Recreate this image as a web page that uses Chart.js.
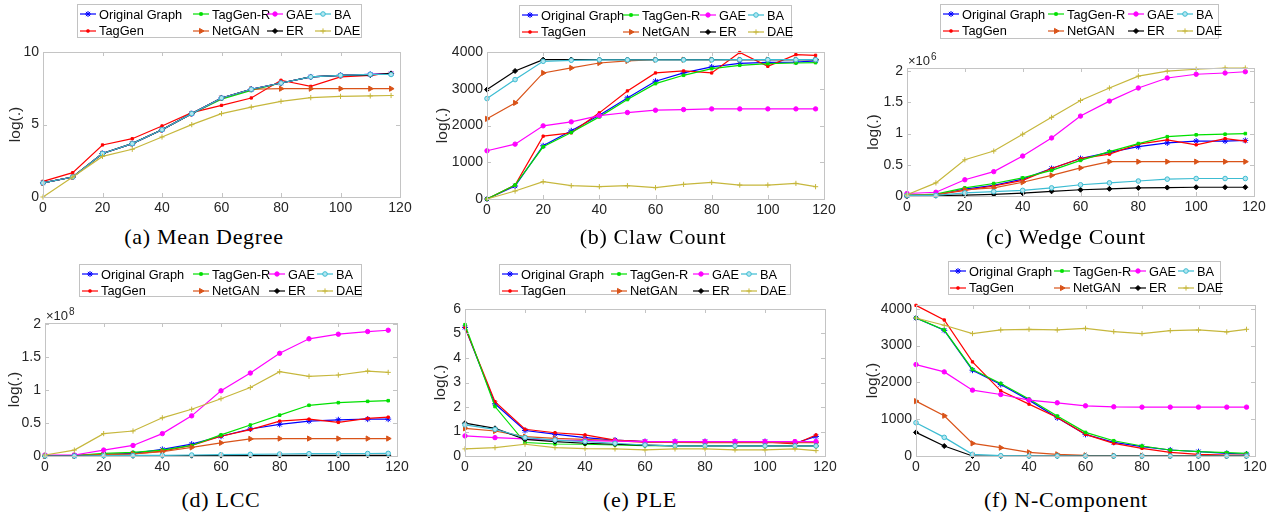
<!DOCTYPE html>
<html>
<head>
<meta charset="utf-8">
<script src="https://cdn.jsdelivr.net/npm/chart.js@4.4.1/dist/chart.umd.min.js"></script>
<style>
  body { margin: 0; width: 1279px; height: 516px; background: #fff; position: relative; overflow: hidden;
         font-family: 'Liberation Sans', Arial, sans-serif; }
  canvas.plot { position: absolute; }
  .legend { position: absolute; border: 1px solid #c2c2c2; background: #fff; box-sizing: border-box; }
  .item { position: absolute; height: 16px; display: flex; align-items: center; font-size: 12.8px; color: #000; white-space: nowrap; }
  .item canvas { margin-right: 3px; }
  .caption { position: absolute; font-family: 'Liberation Serif', 'Times New Roman', serif; font-size: 22px; line-height: 22px;
             letter-spacing: 0.7px; white-space: nowrap; transform: translateX(-50%); color: #000; }
</style>
</head>
<body>
<script>
// x positions shared by every panel
const steps = [0, 10, 20, 30, 40, 50, 60, 70, 80, 90, 100, 110, 117];
const xTicks = [0, 20, 40, 60, 80, 100, 120];

// series order: Original Graph, TagGen, TagGen-R, NetGAN, GAE, ER, BA, DAE
const seriesNames = ['Original Graph', 'TagGen', 'TagGen-R', 'NetGAN', 'GAE', 'ER', 'BA', 'DAE'];

// (a) Mean Degree
const degOriginal = [0.97, 1.38, 3.0, 3.68, 4.64, 5.75, 6.83, 7.43, 7.86, 8.28, 8.39, 8.46, 8.5];
const degTagGen   = [1.08, 1.68, 3.59, 4.02, 4.9, 5.82, 6.32, 6.83, 8.05, 7.63, 8.28, 8.39, 8.55];
const degTagGenR  = [0.97, 1.38, 3.0, 3.68, 4.64, 5.75, 6.75, 7.35, 7.86, 8.28, 8.39, 8.45, 8.45];
const degNetGAN   = [0.97, 1.38, 3.0, 3.68, 4.64, 5.75, 6.83, 7.43, 7.47, 7.47, 7.47, 7.47, 7.47];
const degGAE      = [0.97, 1.38, 3.0, 3.68, 4.64, 5.75, 6.83, 7.43, 7.86, 8.28, 8.39, 8.46, 8.5];
const degER       = [0.97, 1.38, 3.0, 3.68, 4.64, 5.75, 6.83, 7.43, 7.86, 8.28, 8.39, 8.42, 8.52];
const degBA       = [0.97, 1.38, 3.0, 3.68, 4.64, 5.75, 6.83, 7.43, 7.86, 8.28, 8.39, 8.46, 8.45];
const degDAE      = [0, 1.38, 2.8, 3.29, 4.14, 4.99, 5.75, 6.2, 6.6, 6.85, 6.94, 6.97, 7.0];
const degTicks = [0, 5, 10];

// (b) Claw Count
const clawOriginal = [0, 353, 1448, 1855, 2280, 2751, 3204, 3430, 3593, 3690, 3720, 3727, 3760];
const clawTagGen   = [0, 380, 1710, 1800, 2344, 2941, 3430, 3484, 3430, 3985, 3610, 3930, 3910];
const clawTagGenR  = [0, 380, 1420, 1810, 2235, 2706, 3140, 3366, 3548, 3638, 3683, 3700, 3710];
const clawNetGAN   = [2181, 2615, 3430, 3566, 3701, 3756, 3790, 3790, 3790, 3790, 3790, 3790, 3790];
const clawGAE      = [1312, 1493, 1991, 2100, 2271, 2353, 2416, 2434, 2452, 2452, 2452, 2452, 2452];
const clawER       = [2977, 3484, 3792, 3795, 3795, 3795, 3795, 3795, 3795, 3795, 3795, 3795, 3795];
const clawBA       = [2733, 3249, 3747, 3774, 3785, 3785, 3785, 3785, 3785, 3790, 3790, 3790, 3790];
const clawDAE      = [0, 217, 470, 362, 335, 362, 308, 398, 452, 380, 380, 425, 335];
const clawTicks = [0, 1000, 2000, 3000, 4000];

// (c) Wedge Count, in units of 1e6
const wedgeOriginal = [0.01, 0.02, 0.11, 0.17, 0.27, 0.44, 0.6, 0.7, 0.79, 0.85, 0.88, 0.88, 0.89];
const wedgeTagGen   = [0.01, 0.02, 0.09, 0.16, 0.25, 0.44, 0.6, 0.67, 0.83, 0.9, 0.82, 0.92, 0.88];
const wedgeTagGenR  = [0.01, 0.03, 0.13, 0.2, 0.29, 0.41, 0.57, 0.71, 0.84, 0.95, 0.98, 0.99, 1.0];
const wedgeNetGAN   = [0.01, 0.02, 0.1, 0.13, 0.22, 0.33, 0.45, 0.55, 0.55, 0.55, 0.55, 0.55, 0.55];
const wedgeGAE      = [0.04, 0.06, 0.26, 0.39, 0.64, 0.93, 1.28, 1.52, 1.73, 1.89, 1.95, 1.97, 1.99];
const wedgeER       = [0, 0.005, 0.015, 0.025, 0.045, 0.075, 0.1, 0.115, 0.13, 0.135, 0.14, 0.14, 0.14];
const wedgeBA       = [0.01, 0.01, 0.05, 0.07, 0.09, 0.13, 0.18, 0.21, 0.24, 0.27, 0.28, 0.28, 0.28];
const wedgeDAE      = [0.02, 0.21, 0.58, 0.72, 0.99, 1.26, 1.53, 1.73, 1.92, 2.0, 2.03, 2.05, 2.05];
const wedgeTicks = [0, 0.5, 1, 1.5, 2];

// (d) LCC, in units of 1e8
const lccOriginal = [0, 0.005, 0.025, 0.04, 0.1, 0.18, 0.3, 0.41, 0.48, 0.53, 0.55, 0.56, 0.56];
const lccTagGen   = [0, 0.005, 0.025, 0.03, 0.075, 0.16, 0.3, 0.4, 0.53, 0.56, 0.51, 0.57, 0.59];
const lccTagGenR  = [0, 0.005, 0.04, 0.055, 0.09, 0.16, 0.32, 0.47, 0.62, 0.77, 0.81, 0.83, 0.84];
const lccNetGAN   = [0, 0.005, 0.02, 0.03, 0.065, 0.13, 0.2, 0.26, 0.265, 0.265, 0.265, 0.265, 0.265];
const lccGAE      = [0.015, 0.015, 0.09, 0.16, 0.34, 0.61, 0.99, 1.26, 1.56, 1.78, 1.85, 1.89, 1.91];
const lccER       = [0, 0, 0.002, 0.003, 0.004, 0.005, 0.006, 0.007, 0.008, 0.009, 0.009, 0.01, 0.01];
const lccBA       = [0, 0, 0.005, 0.008, 0.01, 0.015, 0.02, 0.025, 0.03, 0.035, 0.035, 0.038, 0.04];
const lccDAE      = [0.015, 0.09, 0.34, 0.38, 0.58, 0.71, 0.87, 1.04, 1.28, 1.21, 1.23, 1.29, 1.27];
const lccTicks = [0, 0.5, 1, 1.5, 2];

// (e) PLE
const pleOriginal = [5.25, 2.13, 1.04, 0.89, 0.75, 0.65, 0.59, 0.59, 0.59, 0.59, 0.59, 0.52, 0.8];
const pleTagGen   = [5.25, 2.22, 1.09, 0.95, 0.86, 0.65, 0.59, 0.58, 0.58, 0.58, 0.58, 0.49, 0.86];
const pleTagGenR  = [5.36, 2.02, 0.55, 0.49, 0.48, 0.45, 0.42, 0.42, 0.42, 0.42, 0.42, 0.42, 0.42];
const pleNetGAN   = [1.13, 1.02, 0.79, 0.72, 0.68, 0.63, 0.56, 0.55, 0.55, 0.55, 0.55, 0.55, 0.55];
const pleGAE      = [0.82, 0.75, 0.7, 0.65, 0.63, 0.61, 0.59, 0.59, 0.59, 0.59, 0.59, 0.59, 0.59];
const pleER       = [1.34, 1.13, 0.68, 0.59, 0.52, 0.48, 0.44, 0.41, 0.41, 0.41, 0.41, 0.41, 0.41];
const pleBA       = [1.27, 1.09, 0.75, 0.65, 0.59, 0.52, 0.45, 0.41, 0.41, 0.41, 0.41, 0.41, 0.41];
const pleDAE      = [0.29, 0.34, 0.48, 0.34, 0.3, 0.29, 0.25, 0.29, 0.29, 0.25, 0.25, 0.29, 0.22];
const pleTicks = [0, 1, 2, 3, 4, 5, 6];

// (f) N-Component
const compOriginal = [3747, 3413, 2330, 1941, 1517, 1038, 587, 370, 253, 163, 117, 72, 54];
const compTagGen   = [4090, 3693, 2555, 1770, 1409, 1047, 587, 343, 208, 99, 45, 27, 18];
const compTagGenR  = [3750, 3420, 2350, 1970, 1545, 1084, 641, 415, 271, 163, 117, 90, 72];
const compNetGAN   = [1490, 1093, 343, 226, 99, 45, 18, 9, 9, 9, 9, 9, 9];
const compGAE      = [2483, 2284, 1788, 1670, 1517, 1445, 1363, 1336, 1327, 1327, 1327, 1327, 1327];
const compER       = [641, 271, 0, 0, 0, 0, 0, 0, 0, 0, 0, 0, 0];
const compBA       = [903, 506, 45, 9, 0, 0, 0, 0, 0, 0, 0, 0, 0];
const compDAE      = [3747, 3549, 3323, 3422, 3440, 3422, 3467, 3377, 3323, 3404, 3422, 3368, 3440];
const compTicks = [0, 1000, 2000, 3000, 4000];

// line / marker look per series (MATLAB-like)
const seriesColors = ['#0000ff', '#ff0000', '#00e000', '#d95319', '#ff00ff', '#000000', '#3cbcd2', '#c6b73c'];
const seriesFills  = ['#0000ff', '#ff0000', '#00e000', '#d95319', '#ff00ff', '#000000', '#b4e6f0', '#c6b73c'];
const seriesMarkers = [
  { style: 'star', radius: 3 },
  { style: 'rect', radius: 1.6 },
  { style: 'rect', radius: 1.8 },
  { style: 'triangle', radius: 3, rotation: 90 },
  { style: 'circle', radius: 2.2 },
  { style: 'rectRot', radius: 2.5 },
  { style: 'circle', radius: 2.3 },
  { style: 'cross', radius: 2.6 }
];

// panel layout: plot box (L,T,R,B), y-title centre, legend box, caption
const panels = [
  { values: [degOriginal, degTagGen, degTagGenR, degNetGAN, degGAE, degER, degBA, degDAE], yMax: 10, yTicks: degTicks,
    L: 43, T: 52, R: 400, B: 197, titleX: 15,
    legend: { x: 77, y: 4, w: 285, h: 34, cols: [3, 116, 190, 238] },
    caption: '(a) Mean Degree', capX: 204, capY: 225.6 },
  { values: [clawOriginal, clawTagGen, clawTagGenR, clawNetGAN, clawGAE, clawER, clawBA, clawDAE], yMax: 4000, yTicks: clawTicks,
    L: 487, T: 52, R: 824, B: 199, titleX: 442,
    legend: { x: 519, y: 5, w: 273, h: 33, cols: [3, 104, 181, 229] },
    caption: '(b) Claw Count', capX: 653, capY: 225.6 },
  { values: [wedgeOriginal, wedgeTagGen, wedgeTagGenR, wedgeNetGAN, wedgeGAE, wedgeER, wedgeBA, wedgeDAE], yMax: 2.05, yTicks: wedgeTicks,
    L: 907, T: 68, R: 1254, B: 196, titleX: 873, exponent: '6',
    legend: { x: 940, y: 4, w: 279, h: 35, cols: [3, 108, 188, 237] },
    caption: '(c) Wedge Count', capX: 1066, capY: 225.6 },
  { values: [lccOriginal, lccTagGen, lccTagGenR, lccNetGAN, lccGAE, lccER, lccBA, lccDAE], yMax: 2.02, yTicks: lccTicks,
    L: 45, T: 323, R: 397, B: 456, titleX: 14, exponent: '8',
    legend: { x: 79, y: 264, w: 283, h: 33, cols: [3, 114, 190, 238] },
    caption: '(d) LCC', capX: 221, capY: 488.6 },
  { values: [pleOriginal, pleTagGen, pleTagGenR, pleNetGAN, pleGAE, pleER, pleBA, pleDAE], yMax: 6, yTicks: pleTicks,
    L: 465, T: 309, R: 825, B: 456, titleX: 440,
    legend: { x: 499, y: 264, w: 292, h: 31, cols: [3, 112, 194, 242] },
    caption: '(e) PLE', capX: 640, capY: 488.6 },
  { values: [compOriginal, compTagGen, compTagGenR, compNetGAN, compGAE, compER, compBA, compDAE], yMax: 4100, yTicks: compTicks,
    L: 916, T: 305, R: 1255, B: 456, titleX: 872,
    legend: { x: 948, y: 261, w: 273, h: 34, cols: [2, 106, 182, 230] },
    caption: '(f) N-Component', capX: 1066, capY: 488.6 }
];

Chart.defaults.font.family = "'Liberation Sans', Arial, sans-serif";

const BOX = '#c4c4c4';
const TEXT = '#262626';
const padTop = 18, padRight = 16, xh = 26;

// box round the plot, inward tick marks, and the x10^n note
const matBox = {
  id: 'matBox',
  afterDraw(chart, args, opts) {
    const { ctx, chartArea: a, scales: { x, y } } = chart;
    ctx.save();
    ctx.strokeStyle = BOX;
    ctx.lineWidth = 1;
    ctx.strokeRect(Math.round(a.left) + 0.5, Math.round(a.top) + 0.5, Math.round(a.right - a.left), Math.round(a.bottom - a.top));
    ctx.beginPath();
    x.ticks.forEach(t => {
      const px = Math.round(x.getPixelForValue(t.value)) + 0.5;
      ctx.moveTo(px, a.bottom); ctx.lineTo(px, a.bottom - 4);
      ctx.moveTo(px, a.top); ctx.lineTo(px, a.top + 4);
    });
    y.ticks.forEach(t => {
      const py = Math.round(y.getPixelForValue(t.value)) + 0.5;
      ctx.moveTo(a.left, py); ctx.lineTo(a.left + 4, py);
      ctx.moveTo(a.right, py); ctx.lineTo(a.right - 4, py);
    });
    ctx.stroke();
    if (opts.exponent) {
      ctx.fillStyle = TEXT;
      ctx.font = "13px 'Liberation Sans', Arial";
      ctx.fillText('\u00d710', a.left + 1, a.top - 3);
      const w = ctx.measureText('\u00d710').width;
      ctx.font = "10px 'Liberation Sans', Arial";
      ctx.fillText(opts.exponent, a.left + 2 + w, a.top - 8);
    }
    ctx.restore();
  }
};

function makeDatasets(values) {
  return values.map((vals, i) => {
    const m = seriesMarkers[i];
    return {
      label: seriesNames[i],
      data: steps.map((x, j) => ({ x, y: vals[j] })),
      borderColor: seriesColors[i],
      backgroundColor: seriesFills[i],
      borderWidth: 1.2,
      pointStyle: m.style,
      pointRotation: m.rotation || 0,
      pointRadius: m.radius,
      pointBorderWidth: 1,
      pointBorderColor: seriesColors[i],
      pointBackgroundColor: seriesFills[i],
      tension: 0,
      order: 7 - i,   // later series on top, as in MATLAB
      clip: 8
    };
  });
}

function drawSample(cv, i) {
  const ctx = cv.getContext('2d');
  const m = seriesMarkers[i];
  ctx.strokeStyle = seriesColors[i];
  ctx.lineWidth = 1.2;
  ctx.beginPath(); ctx.moveTo(0, 6); ctx.lineTo(16, 6); ctx.stroke();
  ctx.fillStyle = seriesFills[i];
  ctx.lineWidth = 1;
  if (Chart.helpers && Chart.helpers.drawPoint) {
    Chart.helpers.drawPoint(ctx, { pointStyle: m.style, rotation: m.rotation || 0, radius: m.radius, borderWidth: 1 }, 8, 6);
  } else {
    ctx.beginPath(); ctx.arc(8, 6, m.radius, 0, Math.PI * 2); ctx.fill(); ctx.stroke();
  }
}

panels.forEach(p => {
  const canvasLeft = p.titleX - 9;
  const yw = p.L - canvasLeft;
  const cv = document.createElement('canvas');
  cv.className = 'plot';
  cv.width = (p.R - p.L) + yw + padRight;
  cv.height = (p.B - p.T) + padTop + xh;
  cv.style.left = canvasLeft + 'px';
  cv.style.top = (p.T - padTop) + 'px';
  document.body.appendChild(cv);

  new Chart(cv.getContext('2d'), {
    type: 'line',
    data: { datasets: makeDatasets(p.values) },
    plugins: [matBox],
    options: {
      responsive: false,
      animation: false,
      devicePixelRatio: 1,
      layout: { padding: { top: padTop, right: padRight, left: 0, bottom: 0 } },
      plugins: { legend: { display: false }, tooltip: { enabled: false }, matBox: { exponent: p.exponent } },
      scales: {
        x: {
          type: 'linear', min: 0, max: 120,
          afterBuildTicks: s => { s.ticks = xTicks.map(v => ({ value: v })); },
          afterFit: s => { s.height = xh; },
          grid: { display: false, drawTicks: false },
          border: { display: false },
          ticks: { padding: 3, color: TEXT, font: { size: 14 }, maxRotation: 0, autoSkip: false, callback: v => String(v) }
        },
        y: {
          type: 'linear', min: 0, max: p.yMax,
          afterBuildTicks: s => { s.ticks = p.yTicks.map(v => ({ value: v })); },
          afterFit: s => { s.width = yw; },
          grid: { display: false, drawTicks: false },
          border: { display: false },
          ticks: { padding: 4, color: TEXT, font: { size: 14 }, autoSkip: false, callback: v => String(v) },
          title: { display: true, text: 'log(.)', color: TEXT, font: { size: 15.5 }, padding: 0 }
        }
      }
    }
  });

  // legend box, 4 columns x 2 rows
  const lg = document.createElement('div');
  lg.className = 'legend';
  lg.style.left = p.legend.x + 'px';
  lg.style.top = p.legend.y + 'px';
  lg.style.width = p.legend.w + 'px';
  lg.style.height = p.legend.h + 'px';
  seriesNames.forEach((name, i) => {
    const item = document.createElement('div');
    item.className = 'item';
    item.style.left = (p.legend.cols[Math.floor(i / 2)] - 1) + 'px';
    item.style.top = (i % 2 === 0 ? 1 : 17.7) + 'px';
    const sc = document.createElement('canvas');
    sc.width = 16; sc.height = 12;
    item.appendChild(sc);
    item.appendChild(document.createTextNode(name));
    lg.appendChild(item);
    drawSample(sc, i);
  });
  document.body.appendChild(lg);

  const cap = document.createElement('div');
  cap.className = 'caption';
  cap.style.left = p.capX + 'px';
  cap.style.top = p.capY + 'px';
  cap.textContent = p.caption;
  document.body.appendChild(cap);
});
</script>
</body>
</html>
